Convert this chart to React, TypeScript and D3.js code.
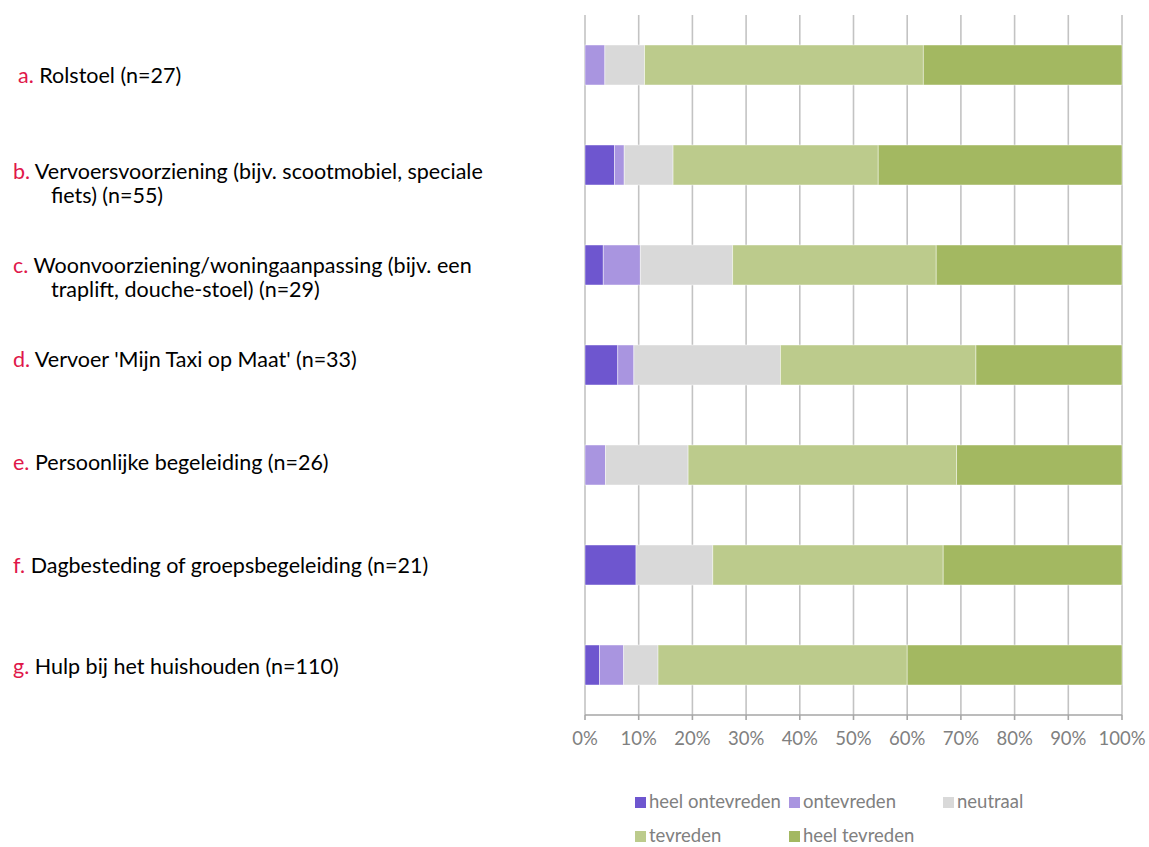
import React from "react";
import * as d3 from "d3";

// Satisfaction with provisions, share of answers per provision (percent)
const letters = ["a.", "b.", "c.", "d.", "e.", "f.", "g."];
const labelLines = [
  ["Rolstoel (n=27)"],
  ["Vervoersvoorziening (bijv. scootmobiel, speciale", "fiets) (n=55)"],
  ["Woonvoorziening/woningaanpassing (bijv. een", "traplift, douche-stoel) (n=29)"],
  ["Vervoer 'Mijn Taxi op Maat' (n=33)"],
  ["Persoonlijke begeleiding (n=26)"],
  ["Dagbesteding of groepsbegeleiding (n=21)"],
  ["Hulp bij het huishouden (n=110)"],
];

const seriesNames = ["heel ontevreden", "ontevreden", "neutraal", "tevreden", "heel tevreden"];
const heelOntevreden = [0, 5.5, 3.4, 6.1, 0, 9.5, 2.7];
const ontevreden = [3.7, 1.8, 6.9, 3.0, 3.8, 0, 4.5];
const neutraal = [7.4, 9.1, 17.2, 27.3, 15.4, 14.3, 6.4];
const tevreden = [51.9, 38.2, 37.9, 36.4, 50.0, 42.9, 46.4];
const heelTevreden = [37.0, 45.4, 34.6, 27.2, 30.8, 33.3, 40.0];

const tickValues = [0, 10, 20, 30, 40, 50, 60, 70, 80, 90, 100];

const colors = ["#6E56CF", "#A995E0", "#D9D9D9", "#BCCB8C", "#A3B861"];

// layout
const W = 1149;
const H = 847;
const FONT = "Lato, 'Open Sans', sans-serif";
const plot = { left: 585, right: 1122, top: 15, bottom: 715 };
// vertical offset of each label's first baseline relative to its bar centre
const labelDy = [18, 14, 8, 2, 5, 8, 9];
const labelX = [18, 13, 13, 13, 13, 13, 13];
const lineHeight = 24;

export default function App() {
  const rows = letters.map((l, i) => ({
    key: l,
    [seriesNames[0]]: heelOntevreden[i],
    [seriesNames[1]]: ontevreden[i],
    [seriesNames[2]]: neutraal[i],
    [seriesNames[3]]: tevreden[i],
    [seriesNames[4]]: heelTevreden[i],
  }));
  const stacked = d3.stack<any>().keys(seriesNames)(rows);

  const x = d3.scaleLinear().domain([0, 100]).range([plot.left, plot.right]);
  const y = d3
    .scaleBand<string>()
    .domain(letters)
    .range([plot.top, plot.bottom])
    .paddingInner(0.6)
    .paddingOuter(0.3);

  return (
    <svg
      width={W}
      height={H}
      style={{ position: "absolute", left: 0, top: 0, background: "#fff" }}
      fontFamily={FONT}
    >
      {/* vertical gridlines */}
      {tickValues.map((t) => (
        <line
          key={"g" + t}
          x1={x(t)}
          x2={x(t)}
          y1={plot.top}
          y2={plot.bottom}
          stroke="#C3C3C3"
          strokeWidth={1.6}
        />
      ))}

      {/* stacked bars */}
      {stacked.map((s, si) => (
        <g key={s.key} fill={colors[si]}>
          {s.map((d, i) => {
            const w = x(d[1]) - x(d[0]);
            if (w <= 0) return null;
            return (
              <rect
                key={i}
                x={x(d[0])}
                y={y(letters[i])}
                width={w}
                height={y.bandwidth()}
                stroke="#ffffff"
                strokeOpacity={0.55}
                strokeWidth={0.8}
              />
            );
          })}
        </g>
      ))}

      {/* x axis */}
      <line x1={plot.left} x2={plot.right} y1={plot.bottom} y2={plot.bottom} stroke="#A6A6A6" strokeWidth={1.6} />
      {tickValues.map((t) => (
        <g key={"t" + t}>
          <line x1={x(t)} x2={x(t)} y1={plot.bottom} y2={plot.bottom + 5} stroke="#A6A6A6" strokeWidth={1.6} />
          <text x={x(t)} y={745} textAnchor="middle" fontSize={18.5} fill="#808080">
            {t + "%"}
          </text>
        </g>
      ))}

      {/* category labels */}
      {letters.map((l, i) => {
        const cy = (y(l) as number) + y.bandwidth() / 2;
        const base = cy + labelDy[i];
        return (
          <g key={"l" + l} fontSize={21.5}>
            <text x={labelX[i]} y={base} fill="#000">
              <tspan fill="#E0174A">{l}</tspan>
              <tspan> {labelLines[i][0]}</tspan>
            </text>
            {labelLines[i].slice(1).map((line, k) => (
              <text key={k} x={51} y={base + lineHeight * (k + 1)} fill="#000">
                {line}
              </text>
            ))}
          </g>
        );
      })}

      {/* legend */}
      {seriesNames.map((name, i) => {
        const col = i < 3 ? i : i - 3;
        const row = i < 3 ? 0 : 1;
        const lx = 635 + col * 154;
        const ly = 797 + row * 34;
        return (
          <g key={"lg" + name}>
            <rect x={lx} y={ly} width={11} height={11} fill={colors[i]} />
            <text x={lx + 14} y={ly + 11} fontSize={18.5} fill="#808080">
              {name}
            </text>
          </g>
        );
      })}
    </svg>
  );
}
